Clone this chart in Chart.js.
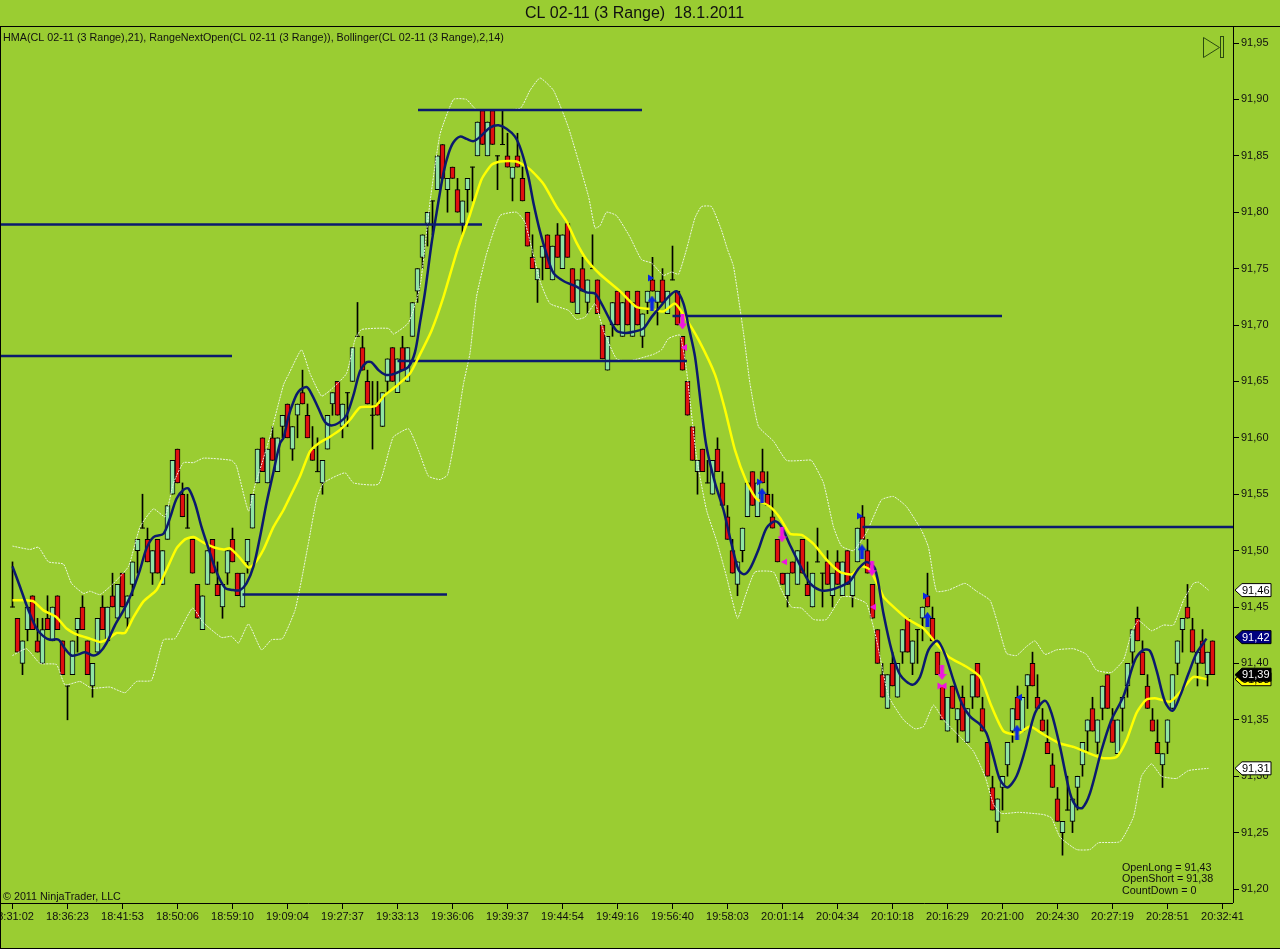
<!DOCTYPE html>
<html><head><meta charset="utf-8"><title>CL 02-11</title>
<style>html,body{margin:0;padding:0;background:#9ACD32;overflow:hidden}canvas{display:block}</style>
<script src="https://cdn.jsdelivr.net/npm/chart.js@4"></script></head>
<body><canvas id="c" width="1280" height="949"></canvas>
<script>
// All prices are stored as cents above this base.
const priceBase = 91;
const chartTitle = "CL 02-11 (3 Range)  18.1.2011";
const legendLine = "HMA(CL 02-11 (3 Range),21), RangeNextOpen(CL 02-11 (3 Range)), Bollinger(CL 02-11 (3 Range),2,14)";
const copyrightLine = "\u00A9 2011 NinjaTrader, LLC";
const infoLines = ["OpenLong = 91,43", "OpenShort = 91,38", "CountDown = 0"];
const timeLabels = ["18:31:02","18:36:23","18:41:53","18:50:06","18:59:10","19:09:04","19:27:37","19:33:13","19:36:06","19:39:37","19:44:54","19:49:16","19:56:40","19:58:03","20:01:14","20:04:34","20:10:18","20:16:29","20:21:00","20:24:30","20:27:19","20:28:51","20:32:41"];
const barsPerTimeLabel = 11;

const opens = [45,44,40,43,46,42,40,44,42,46,
42,38,39,43,45,42,38,41,45,42,
46,44,48,44,47,50,52,51,48,51,
47,51,55,59,55,52,51,47,43,47,
51,47,45,48,51,48,45,49,52,56,
60,56,60,57,61,63,59,62,64,62,
59,57,56,59,63,65,61,64,65,69,
68,65,62,63,61,65,68,64,68,65,
69,73,76,79,81,82,86,82,84,82,
79,82,84,85,89,85,89,85,86,85,
83,85,83,80,76,74,76,78,74,78,
75,79,75,71,75,72,75,74,70,66,
70,73,69,73,69,73,69,72,74,72,
74,71,74,73,69,65,61,57,59,56,
55,59,56,53,50,47,50,53,57,53,
57,55,53,51,48,46,49,47,51,47,
45,49,48,49,46,49,46,50,46,49,
53,50,47,43,39,36,40,37,41,44,
40,43,44,46,44,41,38,34,38,35,
37,33,37,40,36,33,29,26,29,31,
34,37,34,38,40,37,35,33,31,28,
25,27,26,29,31,34,36,33,36,39,
35,32,36,38,41,44,41,38,35,33,
31,33,36,40,43,45,43,40,42,39,42];
const closes = [45,41,42,45,43,41,43,43,45,43,
39,38,42,44,43,39,40,44,43,45,
45,47,45,46,49,51,52,49,50,48,
50,54,58,56,53,52,48,44,46,50,
48,46,47,50,49,46,48,51,55,59,
57,59,58,60,62,60,61,63,63,60,
58,57,58,62,64,62,63,64,68,69,
66,63,62,62,64,67,65,67,66,68,
72,75,78,80,81,85,83,83,83,80,
81,83,84,88,86,88,86,85,86,84,
84,84,81,77,75,75,77,75,77,76,
78,76,72,74,73,74,75,71,67,69,
72,70,72,70,72,70,71,73,73,73,
72,73,74,70,66,62,58,58,57,56,
58,57,54,51,48,49,52,56,54,56,
56,54,52,49,47,48,48,50,48,46,
48,49,48,47,48,47,49,47,48,52,
51,48,44,40,37,39,38,40,43,41,
42,43,45,45,42,39,35,37,36,36,
34,36,39,37,34,30,27,28,30,33,
36,35,37,39,38,36,34,32,29,26,
26,27,28,30,33,35,34,35,38,36,
33,35,37,40,43,42,39,36,34,32,
32,35,39,42,44,44,41,41,40,41,39];
const highs = [49,44,42,45,46,44,44,46,45,46,
42,38,42,44,46,42,40,44,46,45,
48,47,48,46,49,51,55,52,50,51,
50,54,58,59,56,55,51,47,46,50,
51,49,47,50,52,48,48,51,55,59,
60,59,61,60,62,63,61,63,66,63,
61,60,58,62,64,65,63,64,68,72,
69,66,65,65,64,67,68,67,69,68,
72,75,78,80,81,85,86,83,84,83,
81,83,84,88,89,88,89,85,89,87,
84,87,84,80,78,75,77,78,77,79,
78,79,75,74,76,74,78,74,70,69,
72,73,72,73,72,73,71,73,76,73,
75,73,77,73,69,65,61,58,59,58,
58,60,57,54,51,49,52,56,57,56,
59,57,55,51,48,48,49,50,51,49,
48,52,48,50,48,50,49,50,48,52,
54,51,47,43,40,39,41,40,43,44,
42,43,45,48,45,41,38,37,38,36,
38,36,39,40,37,33,30,28,30,33,
36,38,37,39,41,39,36,35,32,29,
26,30,28,30,33,35,37,35,38,39,
36,35,37,40,43,45,42,39,36,35,
32,35,39,42,44,47,44,41,43,41,42];
const lows = [45,41,39,42,43,41,40,43,42,43,
39,35,39,41,43,39,37,41,43,42,
45,44,45,43,46,48,52,49,47,48,
47,51,55,56,53,52,48,44,43,47,
48,46,44,47,49,46,45,48,52,56,
57,56,58,57,60,60,58,60,63,60,
58,57,55,59,62,62,60,61,65,69,
66,63,59,62,61,64,65,64,66,65,
69,72,75,77,78,82,83,80,83,80,
78,80,81,85,86,85,86,82,86,84,
81,84,81,77,75,72,74,75,74,76,
75,76,72,71,73,71,75,71,67,66,
69,70,69,70,69,70,68,71,73,70,
72,71,74,70,66,62,58,55,57,56,
55,57,54,51,48,46,49,53,54,53,
56,54,52,49,47,45,48,47,48,46,
45,49,45,47,45,47,46,47,45,49,
51,48,44,40,37,36,38,37,40,41,
39,40,42,45,42,39,35,34,36,33,
34,33,36,37,34,30,27,25,27,30,
33,35,34,36,38,36,34,32,29,26,
23,27,25,27,30,32,34,32,35,36,
33,32,34,37,40,42,39,36,34,32,
29,32,36,39,41,44,41,38,40,38,39];

const hmaAt = [0,1.5,3.2,4.8,6.2,7.5,9.2,10.5,11.8,13.2,14.5,16.2,17.5,18.8,20.5,22.2,23.8,25.5,26.8,28.2,30.2,31.5,32.8,34.2,35.2,36.5,37.8,39.2,40.8,42.5,44.2,45.5,46.8,48.2,49.5,50.8,52.2,53.5,54.2,55.2,56.2,57.2,58.8,59.8,61.2,62.5,63.8,65.5,66.8,68.2,69.5,70.8,71.8,73.2,74.5,75.8,77.5,79.2,80.5,81.5,82.5,83.8,84.8,86.2,87.2,88.2,89.5,90.8,92.2,93.8,95.5,97.2,98.8,100.5,101.8,103.2,104.2,105.5,106.8,108.2,110.2,112.8,114.8,116.5,117.8,119.2,120.8,122.5,124.2,126.2,127.8,129.5,131.2,132.8,134.2,135.2,136.5,137.8,138.8,140.5,142.2,143.8,145.2,146.3,147.5,149.2,150.8,152.5,153.8,155.5,157.5,159.5,161.5,163.5,165.5,167.5,169.2,170.8,172.5,174.2,175.8,177.5,180,181.5,183.2,185,186.5,188.2,189.8,191.5,193.5,194.8,196.2,197.5,199,200.8,202.5,204.5,206.5,207.8,209.5,211.5,212.8,214,215.5,217.8,219.8,222.2,224.5,226.2,227.5,228.8,230.5,232,233.5,235.2,236.8,238.8];
const hmaValues = [48.6,46.8,44.7,43.1,42.4,42.1,42.1,41.3,40.7,40.8,41,40.7,41,41.8,43.4,44.7,46.2,48.3,50.2,51.2,51.5,52.9,54.6,55.4,55.5,54.2,52.1,50.2,48.1,46.7,46.5,46.5,47.1,48.6,51.2,54.2,57,59.5,60,61.9,63.2,64.1,64.5,63.9,62.6,61.4,61.1,61.4,62,63.8,65.9,66.7,66.7,66,65.6,65.6,65.9,66.3,67.6,70.2,72.9,77.2,79.9,83.5,85.2,86.2,86.7,86.5,86.3,86.8,87.5,87.7,87.4,86.7,85.4,83.1,80.8,78.3,76.3,74.6,73.9,73.4,72.9,72.8,71.9,70.7,69.5,69.3,69.4,69.7,70.7,71.6,72.5,73,71.9,69.9,67.2,62.5,59.2,56,53.6,50.6,48.3,47.9,48.4,50.1,52,52.6,52.1,50.5,48.7,47.1,46.5,46.5,46.8,47.3,48.4,49,48.4,44.4,41.2,39,38.1,38.8,41.2,42,40.8,38.5,36.5,35.3,34.6,33.8,31.7,29.7,29,30,32.3,35.6,36.7,35.6,32.6,28.5,27.3,27.2,28.5,32.3,35,37.1,40.3,41.2,41.1,39.4,36.6,35.8,37.1,39.1,40.9,42.2];

const yellowAt = [0,2.5,4.2,6.2,8.8,10.8,13.2,15.5,17.5,19.2,20.8,22.5,24.2,26.2,28.8,30.8,32.8,34.5,36.2,38.2,40.2,42.2,43.5,45.2,47.2,48.5,50.2,52.2,54.2,55.2,57.5,59.5,61.2,63.5,65.5,67.5,69.5,72.5,74.5,76.8,79.5,81.5,83.8,86.2,88.8,91.5,93.8,95.8,97.5,100.8,103.5,106.2,108.8,110.8,112.8,114.8,117.5,121.5,124.8,127.8,130.2,132.5,134.5,137.2,140.5,142.5,144.5,146.8,148.8,151.5,153.5,155.5,157.8,160.2,162.8,165.5,167.8,169.8,171.5,174.2,175.5,178.8,182.2,184.5,187.2,190.8,193.5,195.8,198.2,200.8,203.5,206.2,209.5,212.2,215.5,218.2,220.8,222.8,224.8,226.8,228.8,231.5,233.8,236.2,238.8];
const yellowValues = [45.6,45.6,45.5,44.7,44.1,43.1,42.5,42.2,41.9,42.2,42.7,42.7,44.1,45.5,46.5,48.3,50.2,51,51.2,50.7,50.3,50.1,50.2,49.5,48.5,48.9,50.1,52.1,53.6,54.5,56.6,58.8,59.5,60.1,60.7,61.6,62.7,62.8,63.8,64.6,65.7,67.4,69.5,72.5,76.4,79.8,82.9,84.2,84.5,84.5,83.8,82.5,80.5,79.2,77.3,75.8,74.5,73,71.6,71.4,71.2,71.9,70.7,68.7,65.6,62.5,58.9,56.1,54.6,53.9,52.9,51.5,51.4,50.6,49.2,48.1,47.9,48.6,48.3,45.9,45.3,44,43.1,41.9,40.6,39.7,38.8,36.2,34,33.7,34.4,33.7,32.9,32.6,32,31.6,31.7,33.2,35.6,36.8,36.9,36.6,37.6,38.8,38.6];

const upperAt = [0,3.5,5.2,7.2,10.2,11.8,14.2,15.5,17.5,20.2,23.2,25.5,28.2,30.5,32.2,34.2,36.2,38.2,43.8,44.8,47.2,48.5,49.5,51.5,54.2,55.2,57.8,59.5,61.8,63.5,66.8,68.5,69.8,75.2,76.2,79.2,81.5,83.5,85.5,88.2,90.8,92.8,101.5,103.5,105.5,108.2,111.2,115.2,116.5,117.5,118.8,120.8,123.5,125.8,127.8,130.2,131.8,133.2,134.8,136.5,137.8,139.8,141.8,143,144.2,146.2,147.5,149.2,152.2,154.8,158.2,159.8,162.2,164.2,165.8,168.2,170.8,173.8,176.2,178.8,181.8,183.2,184.8,187.2,190.5,192.8,195.5,196.8,198.8,200.8,202.8,204.5,206.5,208.8,212.2,214.8,216.8,219.8,222.2,223.8,225.2,227.8,230.2,232.2,234.2,236.2,237.2,239.2];
const upperValues = [50.4,50.1,50.3,49,48.8,47.1,46.2,46.4,46.1,47.1,48.6,52.1,53.7,53,56,57.8,57.8,58.2,58,57.5,53.5,55.8,57.2,60.1,64.7,65.6,67.8,65.7,63.7,64.2,65.7,68.7,69.6,69.7,69.2,70.2,73.4,80.9,86.9,90,90,89.1,89.2,90.8,91.9,90.8,87.5,81.4,78.6,78.8,80,79.7,77.8,75.8,75.5,74.4,74.7,74.5,76.7,79.5,80.5,80.5,78.4,76.7,75.2,69.3,64.8,61,59.7,58,58,58,56,52.1,50.4,50,51.6,54.5,54.8,53.9,51.8,50.3,46.4,46.5,47.1,46.4,45.6,43.9,40.9,40.7,41.5,42,40.8,41.2,41.3,40.8,39.4,39.2,40.3,42.7,43.8,42.9,43.4,43.4,45.6,47.1,47.2,46.5];

const lowerAt = [0,2.8,5.5,8.8,10.5,13.5,15.8,19.5,22.5,24.8,27.8,30.2,32.5,36,38.2,41.8,43.8,45.2,47.2,49.8,51.8,54,56.5,57.8,59.2,60.8,62.2,66.5,68.2,73.2,75.5,76.2,79.2,81.2,83.2,85.5,87,88.5,90.2,91.5,92.8,94.8,97.5,100.8,102.5,105.5,107.5,111.2,112.8,114.5,116.5,118.2,120.8,123.2,128.2,129.8,131.2,133.5,134.8,136.8,138.8,140.8,142.8,145,146.5,148.5,152.2,153.8,155.8,157.8,160.2,162.8,165.8,167.8,170.8,172.8,175.2,178.2,180.5,182.2,184.2,186.2,189.5,192.2,194.5,196.2,197.8,201.2,206.2,207.8,209.5,212.8,215.5,217.2,221.5,224.2,225.8,227.8,229.8,232.8,235.2,239.2];
const lowerValues = [40.7,41.3,40,39.9,38.1,38.4,37.8,37.9,37.4,38.4,38.5,42.1,42.2,44.9,43.6,42.3,42.4,41.8,43.5,41.2,42.1,42.2,44.7,47.4,50.7,54.5,56,56.9,56,55.9,59.2,60.1,60.8,58.9,56.6,56.3,56.7,60,64.8,67.5,72.5,76.3,79.7,80,79.1,73.9,71.9,71.3,70.5,70.7,71.9,69.5,67,66.8,67.4,67.8,68.8,69.1,66,58.3,53.6,50.9,47.7,44,45.9,48.1,48.1,46.5,45,44.9,43.9,43.9,45.9,45.9,45.3,42.1,37.1,35,34.2,34.4,36.3,35,33.5,32.2,30,27.5,26.7,26.8,26.6,26.3,24.6,23.5,23.5,24.1,24.2,26.4,30,31.1,30,29.8,30.5,30.7];

const levelValues = [67.25,78.9,89.06,66.8,70.8,46.1,52.1];
const levelFrom = [-2.3,-2.3,81.1,77,132,46,170];
const levelTo = [43.9,93.9,125.9,134.9,197.9,86.9,244.1];

const blueTriangleAt = [127.5,149.3,169.3,182.5];
const blueTriangleValues = [74.17,56.08,53.07,45.97];
const blueLeftAt = [201.5];
const blueLeftValues = [37];
const blueArrowAt = [127.9,149.9,169.9,183,200.9];
const blueArrowValues = [71.95,54.9,49.9,43.9,33.9];
const pinkArrowAt = [134,153.9,171.9,185.9];
const pinkArrowValues = [70.27,51.4,48.4,39.2];
const pinkLeftAt = [134.5,154.5,172.3,186.4];
const pinkLeftValues = [68,49,45,38];
const pinkRightAt = [185.4];
const pinkRightValues = [38];

const flagValues = [46.5,38.6,42.33,39,30.7];
const flagTexts = ["91,46","91,38","91,42","91,39","91,31"];
const flagFills = ["#ffffff","#ffff00","#000080","#000000","#ffffff"];
const flagInks = ["#000000","#000000","#ffffff","#ffffff","#000000"];

const toPrice = c => priceBase + c / 100;
const series = (at, vals) => at.map((x, i) => ({x, y: toPrice(vals[i])}));
const idx = opens.map((_, i) => i);

const BG = "#9ACD32", NAVY = "#0b1a6e", FONT = '"Liberation Sans", Arial, sans-serif';

function arrowCanvas(color, down) {
  const c = document.createElement("canvas"); c.width = 9; c.height = 15;
  const g = c.getContext("2d"); g.fillStyle = color;
  if (down) { g.translate(0, 15); g.scale(1, -1); }
  g.beginPath(); g.moveTo(4.5, 0); g.lineTo(9, 6); g.lineTo(6.5, 6); g.lineTo(6.5, 15);
  g.lineTo(2.5, 15); g.lineTo(2.5, 6); g.lineTo(0, 6); g.closePath(); g.fill();
  return c;
}

const lineDs = (data, color, width, order, extra) => Object.assign({
  type: "line", data, borderColor: color, borderWidth: width, pointRadius: 0,
  pointHoverRadius: 0, fill: false, order
}, extra || {});
const markDs = (data, color, style, radius, rot, order) => ({
  type: "line", data, showLine: false, pointStyle: style, pointRadius: radius,
  pointRotation: rot, pointBackgroundColor: color, pointBorderColor: color, pointBorderWidth: 0, order
});

const datasets = [
  {type:"bar", label:"wicks", order:9, barThickness:1, grouped:false, backgroundColor:"#000", borderWidth:0,
   data: idx.map(i => ({x:i, y:[toPrice(lows[i]), toPrice(highs[i])]}))},
  {type:"bar", label:"bodies", order:8, barThickness:5, grouped:false, borderColor:"#000", borderWidth:1, borderSkipped:false,
   backgroundColor: idx.filter(i => opens[i] !== closes[i]).map(i => closes[i] > opens[i] ? "#90E4A4" : "#E01010"),
   data: idx.filter(i => opens[i] !== closes[i]).map(i => ({x:i, y:[toPrice(opens[i]), toPrice(closes[i])]}))},
  {type:"line", label:"doji", order:7, showLine:false, pointStyle:"line", pointRadius:2.5, pointBorderColor:"#000", pointBorderWidth:1,
   data: idx.filter(i => opens[i] === closes[i]).map(i => ({x:i, y:toPrice(opens[i])}))},
  lineDs(series(upperAt, upperValues), "rgba(240,248,235,0.95)", 1, 6, {borderDash:[2,1], tension:0.15}),
  lineDs(series(lowerAt, lowerValues), "rgba(240,248,235,0.95)", 1, 6, {borderDash:[2,1], tension:0.15}),
  lineDs(series(yellowAt, yellowValues), "#FFFF00", 2.5, 4, {tension:0.2}),
  lineDs(series(hmaAt, hmaValues), NAVY, 2.5, 3, {tension:0.3})
];
levelValues.forEach((v, i) => datasets.push(lineDs([{x:levelFrom[i], y:toPrice(v)}, {x:levelTo[i], y:toPrice(v)}], NAVY, 2.5, 5)));
datasets.push(markDs(series(blueTriangleAt, blueTriangleValues), "#0a28e0", "triangle", 4, 90, 1));
datasets.push(markDs(series(blueLeftAt, blueLeftValues), "#0a28e0", "triangle", 4, -90, 1));
datasets.push(markDs(series(blueArrowAt, blueArrowValues), "#0a28e0", arrowCanvas("#0a28e0", false), 7, 0, 1));
datasets.push(markDs(series(pinkArrowAt, pinkArrowValues), "#f014e0", arrowCanvas("#f014e0", true), 7, 0, 1));
datasets.push(markDs(series(pinkLeftAt, pinkLeftValues), "#f014e0", "triangle", 4, -90, 1));
datasets.push(markDs(series(pinkRightAt, pinkRightValues), "#f014e0", "triangle", 4, 90, 1));

const overlay = {
  id: "overlay",
  beforeDraw(chart) {
    const g = chart.ctx; g.save(); g.fillStyle = BG; g.fillRect(0, 0, chart.width, chart.height); g.restore();
    chart.titleBlock.left = 0; chart.titleBlock.right = 1269;
  },
  afterDraw(chart) {
    const g = chart.ctx, a = chart.chartArea, yS = chart.scales.y;
    g.save();
    g.strokeStyle = "#000"; g.lineWidth = 1;
    g.beginPath();
    g.moveTo(0, a.top - 0.5); g.lineTo(1280, a.top - 0.5);
    g.moveTo(0.5, a.top); g.lineTo(0.5, 949);
    g.moveTo(0, 948.5); g.lineTo(1280, 948.5);
    g.moveTo(a.right + 0.5, a.top); g.lineTo(a.right + 0.5, a.bottom);
    g.moveTo(0, a.bottom + 0.5); g.lineTo(a.right, a.bottom + 0.5);
    g.stroke();

    g.fillStyle = "#101010"; g.textBaseline = "middle"; g.textAlign = "left";
    g.font = "10.75px " + FONT;
    g.fillText(legendLine, 3, 38);
    g.fillText(copyrightLine, 3, 897);
    infoLines.forEach((t, i) => g.fillText(t, 1122, 868 + i * 11.5));

    g.strokeStyle = "#2a4a10"; g.lineWidth = 1;
    g.beginPath(); g.moveTo(1203.5, 37.5); g.lineTo(1219.5, 47.5); g.lineTo(1203.5, 57.5); g.closePath(); g.stroke();
    g.strokeRect(1220.5, 36.5, 3, 21);

    g.font = "11px " + FONT;
    flagValues.forEach((v, i) => {
      const y = yS.getPixelForValue(toPrice(v));
      g.beginPath(); g.moveTo(1235, y); g.lineTo(1242, y - 6.5); g.lineTo(1271, y - 6.5); g.lineTo(1271, y + 6.5); g.lineTo(1242, y + 6.5); g.closePath();
      g.fillStyle = flagFills[i]; g.fill(); g.strokeStyle = "#000"; g.stroke();
      g.fillStyle = flagInks[i]; g.fillText(flagTexts[i], 1242, y + 0.5);
    });
    g.restore();
  }
};

new Chart(document.getElementById("c"), {
  type: "bar",
  data: {datasets},
  plugins: [overlay],
  options: {
    responsive: false, animation: false, devicePixelRatio: 1,
    layout: {autoPadding: false, padding: {left: 1, right: 0, top: 0, bottom: 0}},
    plugins: {
      legend: {display: false}, tooltip: {enabled: false},
      title: {display: true, text: chartTitle, color: "#101010", font: {family: FONT, size: 16, weight: "normal", lineHeight: 1.2}, padding: {top: 4, bottom: 3.8}}
    },
    scales: {
      x: {
        type: "linear", offset: false, min: -2.3, max: 244.1,
        grid: {offset: false, drawOnChartArea: false, drawTicks: true, tickLength: 6, tickColor: "#000"},
        border: {display: false},
        ticks: {stepSize: barsPerTimeLabel, autoSkip: false, maxRotation: 0, minRotation: 0, includeBounds: false, maxTicksLimit: 100, padding: 1,
          color: "#101010", font: {family: FONT, size: 11},
          callback: v => timeLabels[Math.round(v / barsPerTimeLabel)] || ""},
        afterFit: s => { s.height = 46; s.paddingLeft = 0; s.paddingRight = 0; }
      },
      y: {
        type: "linear", position: "right", min: 91.1876, max: 91.9642,
        grid: {drawOnChartArea: false, drawTicks: true, tickLength: 6, tickColor: "#000"},
        border: {display: false},
        ticks: {stepSize: 0.05, autoSkip: false, includeBounds: false, maxTicksLimit: 100, padding: 2,
          color: "#101010", font: {family: FONT, size: 11},
          callback: v => v.toFixed(2).replace(".", ",")},
        afterFit: s => { s.width = 47; s.paddingTop = 0; s.paddingBottom = 0; }
      }
    }
  }
});
</script></body></html>
